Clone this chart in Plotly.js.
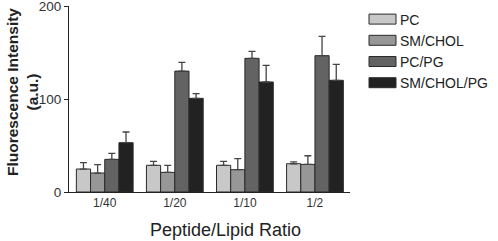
<!DOCTYPE html>
<html>
<head>
<meta charset="utf-8">
<script src="https://cdn.plot.ly/plotly-3.0.1.min.js"></script>
<style>html,body{margin:0;padding:0;background:#fff;}</style>
</head>
<body>
<div id="chart" style="width:498px;height:241px;"></div>
<script>
const categories = ["1/40", "1/20", "1/10", "1/2"];
const seriesNames = ["PC", "SM/CHOL", "PC/PG", "SM/CHOL/PG"];
const pcValues = [24.7, 28.7, 28.7, 30.4];
const pcErrors = [6.8, 4.3, 4.3, 1.9];
const smcholValues = [20.4, 21.1, 24.0, 29.7];
const smcholErrors = [9.0, 7.6, 11.8, 9.3];
const pcpgValues = [35.1, 130.0, 143.7, 146.6];
const pcpgErrors = [6.5, 9.4, 7.5, 20.8];
const smcholpgValues = [53.0, 100.7, 118.3, 120.1];
const smcholpgErrors = [11.5, 5.0, 17.9, 17.2];
const yTicks = [0, 100, 200];

const colors = ["#c8c8c8", "#979797", "#636363", "#222222"];
const values = [pcValues, smcholValues, pcpgValues, smcholpgValues];
const errors = [pcErrors, smcholErrors, pcpgErrors, smcholpgErrors];

const FONT = "Liberation Sans, Arial, sans-serif";

const traces = seriesNames.map((name, i) => ({
  type: "bar",
  name: name,
  x: categories,
  y: values[i],
  marker: {color: colors[i], line: {color: "#2a2a2a", width: 1}},
  error_y: {
    type: "data",
    array: errors[i],
    arrayminus: errors[i].map(() => 0),
    symmetric: false,
    color: "#444444",
    thickness: 1.3,
    width: 3.5
  }
}));

const layout = {
  width: 498,
  height: 241,
  margin: {l: 69, r: 148, t: 6, b: 49, autoexpand: false},
  paper_bgcolor: "#ffffff",
  plot_bgcolor: "#ffffff",
  barmode: "group",
  bargap: 0.19,
  bargroupgap: 0,
  showlegend: true,
  font: {family: FONT, color: "#222"},
  xaxis: {
    type: "category",
    range: [-0.51, 3.5],
    showline: true,
    linecolor: "#222",
    linewidth: 1,
    ticks: "",
    showgrid: false,
    zeroline: false,
    tickfont: {family: FONT, size: 12, color: "#333"}
  },
  yaxis: {
    range: [0, 200.01],
    tickvals: yTicks,
    ticktext: yTicks.map(String),
    showline: true,
    linecolor: "#222",
    linewidth: 1,
    ticks: "outside",
    ticklen: 4,
    tickcolor: "#222",
    ticklabeloverflow: "allow",
    showgrid: false,
    zeroline: false,
    tickfont: {family: FONT, size: 13.5, color: "#333"}
  },
  legend: {
    xref: "container",
    yref: "container",
    x: 360 / 498,
    xanchor: "left",
    y: 1 - 3.5 / 241,
    yanchor: "top",
    font: {family: FONT, size: 14, color: "#222"},
    bgcolor: "rgba(0,0,0,0)",
    borderwidth: 0,
    traceorder: "normal"
  },
  annotations: [
    {
      text: "Peptide/Lipid Ratio",
      xref: "paper", yref: "paper",
      x: (225 - 69) / 281, y: -(230 - 192) / 186,
      xanchor: "center", yanchor: "middle",
      showarrow: false,
      font: {family: FONT, size: 18, color: "#222"}
    },
    {
      text: "<b>Fluorescence Intensity</b><br><b>(a.u.)</b>",
      xref: "paper", yref: "paper",
      x: (22 - 69) / 281, y: (192 - 92) / 186,
      xanchor: "center", yanchor: "middle",
      textangle: -90,
      showarrow: false,
      font: {family: FONT, size: 15.5, color: "#222"}
    }
  ]
};

Plotly.newPlot("chart", traces, layout, {displayModeBar: false, staticPlot: true}).then(gd => {
  gd.querySelectorAll(".legendpoints path").forEach(p => {
    p.setAttribute("d", "M-11,-5H16V5H-11Z");
    p.style.strokeWidth = "1px";
  });
});
</script>
</body>
</html>
